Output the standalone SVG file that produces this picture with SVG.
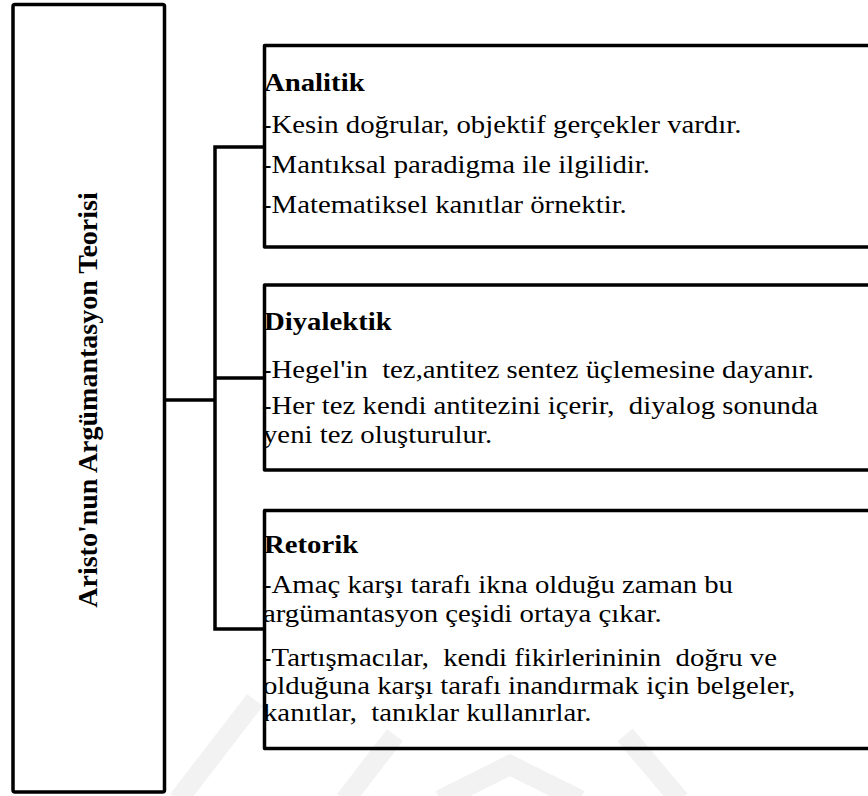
<svg xmlns="http://www.w3.org/2000/svg" width="868" height="796" viewBox="0 0 868 796">
<style>
.box{fill:#fff;stroke:#000;stroke-width:3.5;stroke-linejoin:round}
.conn{fill:none;stroke:#000;stroke-width:3.5;stroke-linecap:square}
.t{font-family:"Liberation Serif","Times New Roman",serif;font-size:25px;fill:#000;white-space:pre}
.h{font-weight:bold}
.wm{fill:none;stroke:#000;stroke-opacity:0.05;stroke-width:20}
</style>
<rect width="868" height="796" fill="#fff"/>
<g id="connectors">
<path class="conn" d="M165,400 H215 M215,147 V629 M215,147 H264 M215,378 H264 M215,629 H264"/>
</g>
<g id="root">
<rect class="box" x="13" y="4.5" width="151.5" height="787.5" rx="2"/>
<text class="t h" style="font-size:28px" text-anchor="middle" transform="translate(97,400) rotate(-90)">Aristo'nun Argümantasyon Teorisi</text>
</g>
<g id="analitik">
<rect class="box" x="264.5" y="45.5" width="620" height="201.5"/>
<text class="t h" transform="translate(264,91) scale(1.15,1)">Analitik</text>
<text class="t" transform="translate(262,133) scale(1.15,1)">-Kesin doğrular, objektif gerçekler vardır.</text>
<text class="t" transform="translate(262,173) scale(1.15,1)">-Mantıksal paradigma ile ilgilidir.</text>
<text class="t" transform="translate(262,213) scale(1.15,1)">-Matematiksel kanıtlar örnektir.</text>
</g>
<g id="diyalektik">
<rect class="box" x="264.5" y="285" width="620" height="185"/>
<text class="t h" transform="translate(264,330) scale(1.15,1)">Diyalektik</text>
<text class="t" transform="translate(262,378) scale(1.15,1)">-Hegel'in  tez,antitez sentez üçlemesine dayanır.</text>
<text class="t" transform="translate(262,414) scale(1.15,1)">-Her tez kendi antitezini içerir,  diyalog sonunda</text>
<text class="t" transform="translate(263,443) scale(1.15,1)">yeni tez oluşturulur.</text>
</g>
<g id="retorik">
<rect class="box" x="264.5" y="510.5" width="620" height="238"/>
<text class="t h" transform="translate(264,553) scale(1.15,1)">Retorik</text>
<text class="t" transform="translate(262,593) scale(1.15,1)">-Amaç karşı tarafı ikna olduğu zaman bu</text>
<text class="t" transform="translate(263,622) scale(1.15,1)">argümantasyon çeşidi ortaya çıkar.</text>
<text class="t" transform="translate(262,666) scale(1.15,1)">-Tartışmacılar,  kendi fikirlerininin  doğru ve</text>
<text class="t" transform="translate(263,694) scale(1.15,1)">olduğuna karşı tarafı inandırmak için belgeler,</text>
<text class="t" transform="translate(263,721) scale(1.15,1)">kanıtlar,  tanıklar kullanırlar.</text>
</g>
<g id="watermark">
<path class="wm" d="M440,800 L510,765 L580,800"/>
<path class="wm" d="M395,735 L345,800"/>
<path class="wm" d="M625,735 L680,800"/>
<path class="wm" d="M255,700 L178,800"/>
</g>
</svg>
